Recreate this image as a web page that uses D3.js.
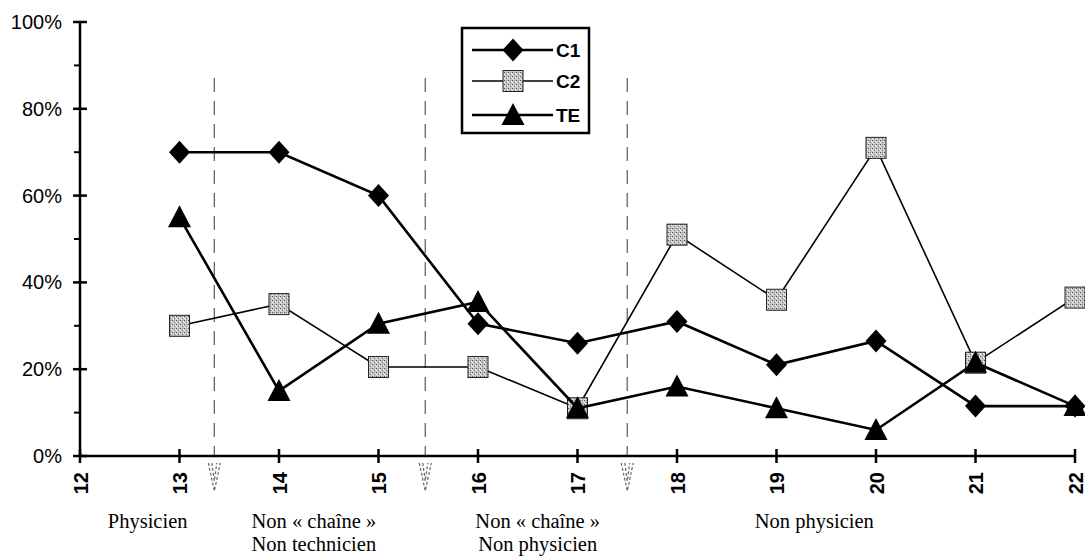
<!DOCTYPE html>
<html><head><meta charset="utf-8">
<script src="https://cdn.jsdelivr.net/npm/d3@7"></script>
<style>body{margin:0;background:#fff}svg{display:block}</style>
</head><body><svg id="c" width="1085" height="556"></svg>
<script>
const categories = [13,14,15,16,17,18,19,20,21,22];
const xTicks = [12,13,14,15,16,17,18,19,20,21,22];
const yTicks = [0,0.2,0.4,0.6,0.8,1.0];
const yMinorTicks = [0.1,0.3,0.5,0.7,0.9];
const c1 = [0.70,0.70,0.60,0.305,0.26,0.31,0.21,0.265,0.115,0.115];
const c2 = [0.30,0.35,0.205,0.205,0.11,0.51,0.36,0.71,0.215,0.365];
const te = [0.55,0.15,0.305,0.355,0.11,0.16,0.11,0.06,0.215,0.115];
const dividers = [13.35,15.47,17.5];
const groupLabels = [
  {x:12.68, lines:["Physicien"]},
  {x:14.35, lines:["Non « chaîne »","Non technicien"]},
  {x:16.6, lines:["Non « chaîne »","Non physicien"]},
  {x:19.38, lines:["Non physicien"]}
];
const seriesNames = ["C1","C2","TE"];

const svg = d3.select("#c");
const x = d3.scaleLinear().domain([12,22]).range([80,1075]);
const y = d3.scaleLinear().domain([0,1]).range([456,22]);

// speckle pattern
const defs = svg.append("defs");
const pat = defs.append("pattern").attr("id","speck").attr("width",4).attr("height",4).attr("patternUnits","userSpaceOnUse");
pat.append("rect").attr("width",4).attr("height",4).attr("fill","#c4c4c4");
[[0,0,"#555"],[2,2,"#777"],[3,1,"#f2f2f2"],[1,3,"#eee"],[2,0,"#999"],[0,2,"#e8e8e8"]].forEach(p=>{
  pat.append("rect").attr("x",p[0]).attr("y",p[1]).attr("width",1).attr("height",1).attr("fill",p[2]);
});

// dividers
dividers.forEach(d=>{
  svg.append("line").attr("x1",x(d)).attr("x2",x(d)).attr("y1",78).attr("y2",456)
    .attr("stroke","#666").attr("stroke-width",1.3).attr("stroke-dasharray","14,9");
  const cx = x(d);
  svg.append("path").attr("d",`M${cx-6},463 L${cx},491 L${cx+6},463 M${cx-2.5},463 L${cx},481 L${cx+2.5},463`)
    .attr("fill","none").attr("stroke","#666").attr("stroke-width",1.2).attr("stroke-dasharray","3,2");
});

// axes
svg.append("line").attr("x1",80).attr("x2",80).attr("y1",y(1)).attr("y2",y(0)).attr("stroke","#000").attr("stroke-width",2.5);
svg.append("line").attr("x1",x(12)).attr("x2",x(22)).attr("y1",y(0)).attr("y2",y(0)).attr("stroke","#000").attr("stroke-width",2.5);
yTicks.forEach(t=>{
  svg.append("line").attr("x1",73).attr("x2",87).attr("y1",y(t)).attr("y2",y(t)).attr("stroke","#000").attr("stroke-width",2.5);
  svg.append("text").attr("x",62).attr("y",y(t)+7).attr("text-anchor","end")
    .attr("font-family","Liberation Sans, Arial, sans-serif").attr("font-size",20).text(d3.format(".0%")(t));
});
yMinorTicks.forEach(t=>{
  svg.append("line").attr("x1",74).attr("x2",80).attr("y1",y(t)).attr("y2",y(t)).attr("stroke","#000").attr("stroke-width",2);
});
xTicks.forEach(t=>{
  svg.append("line").attr("x1",x(t)).attr("x2",x(t)).attr("y1",449).attr("y2",463).attr("stroke","#000").attr("stroke-width",2.5);
  svg.append("text").attr("transform",`translate(${x(t)+7.5},472) rotate(-90)`).attr("text-anchor","end")
    .attr("font-family","Liberation Sans, Arial, sans-serif").attr("font-weight","bold").attr("font-size",20).text(t);
});

// group labels
groupLabels.forEach(g=>{
  g.lines.forEach((l,i)=>{
    svg.append("text").attr("x",x(g.x)).attr("y",528+i*22.5).attr("text-anchor","middle")
      .attr("font-family","Liberation Serif, Times New Roman, serif").attr("font-size",20.5).text(l);
  });
});

// markers
function marker(g, type, cx, cy){
  if(type==="C1"){
    g.append("path").attr("d",`M${cx},${cy-11.5} L${cx+10.5},${cy} L${cx},${cy+11.5} L${cx-10.5},${cy} Z`).attr("fill","#000");
  } else if(type==="C2"){
    g.append("rect").attr("x",cx-10).attr("y",cy-10.5).attr("width",20).attr("height",21)
      .attr("fill","url(#speck)").attr("stroke","#222").attr("stroke-width",1);
  } else {
    g.append("path").attr("d",`M${cx},${cy-12} L${cx+11.5},${cy+10} L${cx-11.5},${cy+10} Z`).attr("fill","#000");
  }
}
const series = [c1,c2,te];
const widths = [2.6,1.6,2.6];
series.forEach((vals,si)=>{
  const g = svg.append("g");
  const line = d3.line().x((d,i)=>x(categories[i])).y(d=>y(d));
  g.append("path").attr("d",line(vals)).attr("fill","none").attr("stroke","#000").attr("stroke-width",widths[si]);
  vals.forEach((v,i)=>marker(g, seriesNames[si], x(categories[i]), y(v)));
});

// legend
const lg = svg.append("g");
lg.append("rect").attr("x",462).attr("y",28).attr("width",127).attr("height",105).attr("fill","#fff").attr("stroke","#000").attr("stroke-width",2.5);
const ly = [50,81,115];
seriesNames.forEach((n,i)=>{
  lg.append("line").attr("x1",472).attr("x2",553).attr("y1",ly[i]).attr("y2",ly[i]).attr("stroke","#000").attr("stroke-width",widths[i]);
  marker(lg, n, 513, ly[i]);
  lg.append("text").attr("x",556).attr("y",ly[i]+7).attr("font-family","Liberation Sans, Arial, sans-serif")
    .attr("font-weight","bold").attr("font-size",19).text(n);
});
</script></body></html>
